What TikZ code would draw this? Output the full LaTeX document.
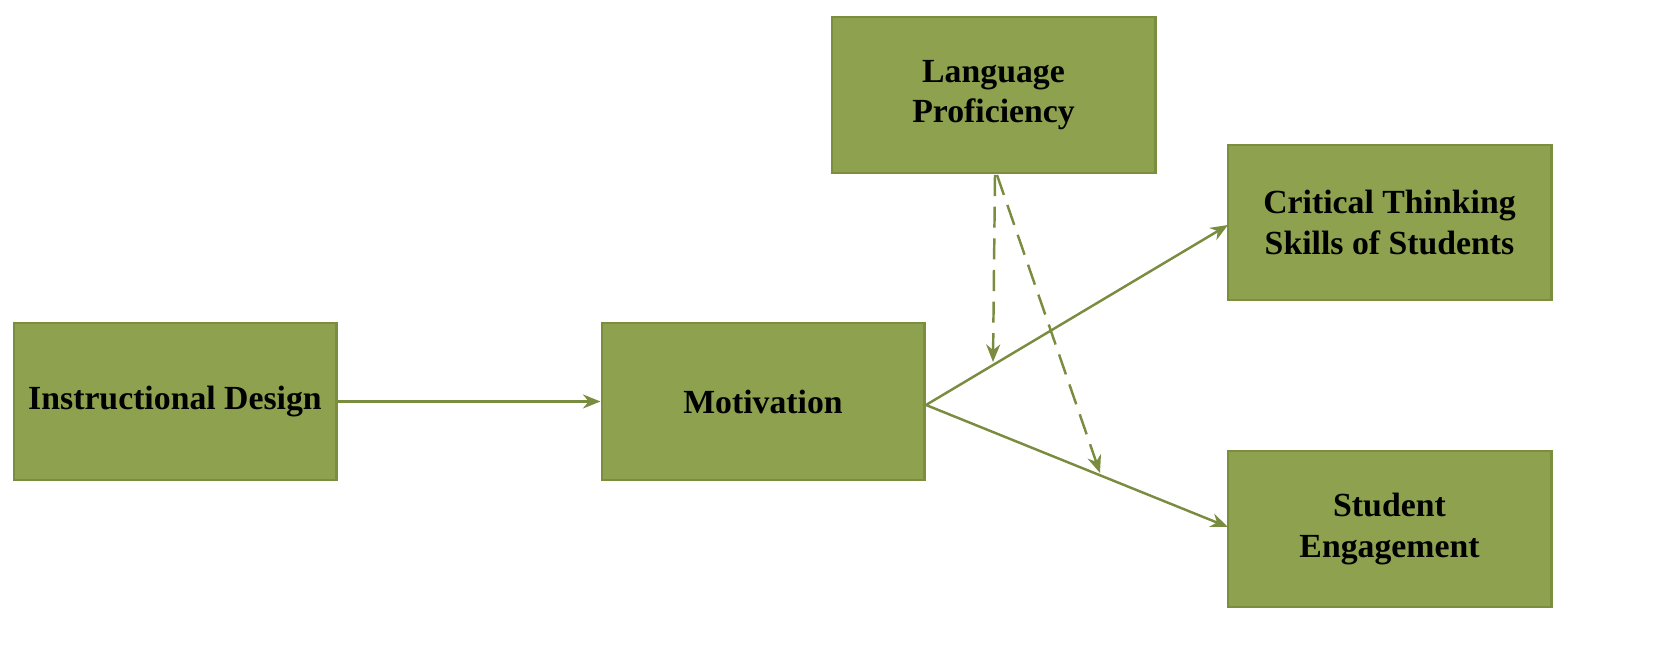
\documentclass[tikz,border=0pt]{standalone}
\usepackage{fontspec}
\setmainfont{Liberation Serif}
\usetikzlibrary{arrows.meta}
\definecolor{boxfill}{HTML}{8DA14E}
\definecolor{boxline}{HTML}{7B8E3E}
\definecolor{arr}{HTML}{7A8C40}
\begin{document}
\begin{tikzpicture}[x=0.01cm,y=-0.01cm,
  bx/.style={draw=boxline,line width=0.8pt,fill=boxfill,inner sep=0pt,align=center,font=\fontsize{9.6}{11.5}\selectfont\bfseries},
  ar/.style={draw=arr,line width=0.7pt,-{Stealth[length=5pt,width=4pt]}}]
\useasboundingbox (0,0) rectangle (1654,668);
\node[bx,minimum width=3.22cm,minimum height=1.57cm] (id) at (175,401.5) {Instructional Design};
\node[bx,minimum width=3.22cm,minimum height=1.57cm] (mo) at (763,401.5) {Motivation};
\node[bx,minimum width=3.23cm,minimum height=1.56cm] (lp) at (993.5,95) {Language\\Proficiency};
\node[bx,minimum width=3.23cm,minimum height=1.55cm] (ct) at (1389.5,222.5) {Critical Thinking\\Skills of Students};
\node[bx,minimum width=3.23cm,minimum height=1.56cm] (se) at (1389.5,529) {Student\\Engagement};
\coordinate (m) at (926,405);
\coordinate (d1) at (993,362);
\coordinate (d2) at (1100,473);
\draw[ar] (id.east) -- (mo.west);
\draw[ar] (m) -- (1228,225);
\draw[ar] (m) -- (1228,527);
\draw[ar,dashed,dash pattern=on 6pt off 3pt] (995,175) -- (d1);
\draw[ar,dashed,dash pattern=on 6pt off 3pt] (997,175) -- (d2);
\end{tikzpicture}
\end{document}
